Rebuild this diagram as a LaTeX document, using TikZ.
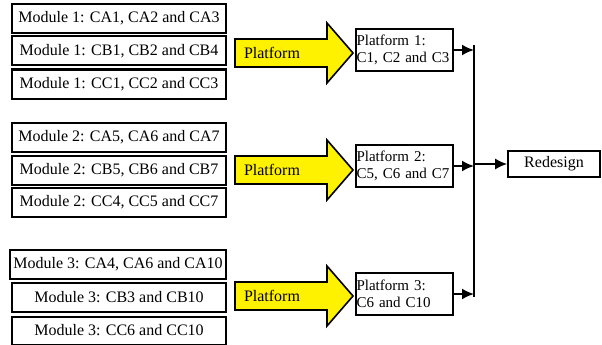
\documentclass[tikz,border=0pt]{standalone}
\usepackage{fontspec}
\setmainfont{Liberation Serif}
\usetikzlibrary{arrows.meta}

\tikzset{
  modbox/.style={draw,line width=2pt,minimum width=214pt,minimum height=29pt,inner sep=1pt},
  platbox/.style={draw,line width=1.6pt,text width=96pt,inner xsep=0.5pt,inner ysep=1pt,minimum height=42pt,align=left,font=\fontsize{15}{16.5}\selectfont},
  bigarrow/.style={draw,line width=1.6pt,fill=yellow,line join=miter},
}

\begin{document}
\begin{tikzpicture}[x=1pt,y=-1pt,>={Latex[length=12pt,width=11pt]},line width=1.8pt,font=\rmfamily\fontsize{16}{17}\selectfont]
  \useasboundingbox (0,0) rectangle (602,345);

  % Module 1
  \node[modbox] (m1a) at (119,18.5) {Module 1: CA1, CA2 and CA3};
  \node[modbox] (m1b) at (119,51) {Module 1: CB1, CB2 and CB4};
  \node[modbox] (m1c) at (119,84) {Module 1: CC1, CC2 and CC3};

  % Module 2
  \node[modbox] (m2a) at (119,137.5) {Module 2: CA5, CA6 and CA7};
  \node[modbox] (m2b) at (119,170) {Module 2: CB5, CB6 and CB7};
  \node[modbox] (m2c) at (119,202.5) {Module 2: CC4, CC5 and CC7};

  % Module 3
  \node[modbox,minimum width=216pt] (m3a) at (118,264.5) {Module 3: CA4, CA6 and CA10};
  \node[modbox] (m3b) at (119,297.5) {Module 3: CB3 and CB10};
  \node[modbox,minimum height=28pt] (m3c) at (119,330.5) {Module 3: CC6 and CC10};

  % yellow arrows
  \foreach \c/\n in {53/1,170/2,296/3} {
    \draw[bigarrow] (235,\c-14) -- (327,\c-14) -- (327,\c-30) -- (353,\c)
      -- (327,\c+30) -- (327,\c+14) -- (235,\c+14) -- cycle;
    \node (pa\n) at (272,\c) {Platform};
  }

  % platforms
  \node[platbox] (p1) at (404.5,50) {Platform 1:\\C1, C2 and C3};
  \node[platbox] (p2) at (404.5,166) {Platform 2:\\C5, C6 and C7};
  \node[platbox] (p3) at (404.5,294) {Platform 3:\\C6 and C10};

  \node[draw,line width=1.6pt,minimum width=92pt,minimum height=26pt,inner sep=1pt] (rd) at (554,164) {Redesign};

  % bus line
  \coordinate (busT) at (474,45);
  \coordinate (busB) at (474,297);
  \coordinate (jn) at (474,164);

  \draw (busT) -- (busB);
  \draw[->] (p1.east) -- (p1.east -| busT);
  \draw[->] (p2.east) -- (p2.east -| busT);
  \draw[->] (p3.east) -- (p3.east -| busT);
  \draw[->] (jn) -- (rd.west);
\end{tikzpicture}
\end{document}
